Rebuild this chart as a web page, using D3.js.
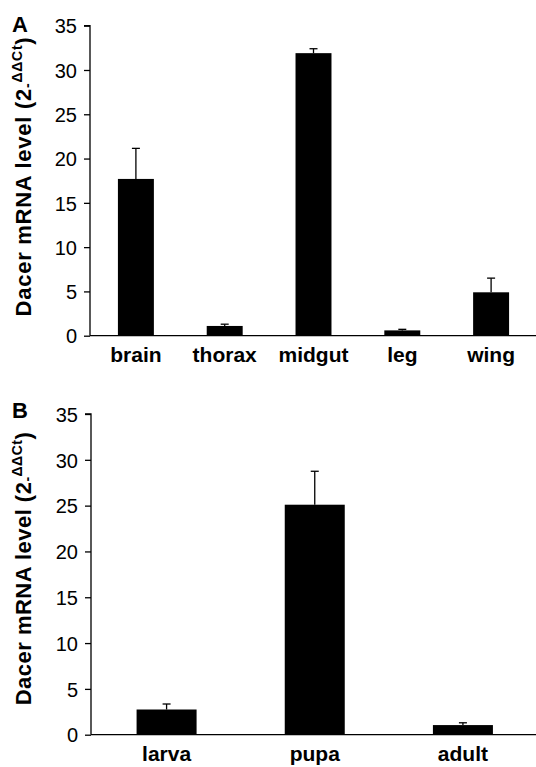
<!DOCTYPE html>
<html>
<head>
<meta charset="utf-8">
<script src="https://cdn.jsdelivr.net/npm/d3@7"></script>
<style>
  html, body { margin: 0; padding: 0; background: #fff; }
  svg { display: block; font-family: "Liberation Sans", Arial, sans-serif; }
</style>
</head>
<body>
<svg id="chart" width="536" height="767"></svg>
<script>
// ---- Data ----
const tissueCategories = ["brain", "thorax", "midgut", "leg", "wing"];
const tissueValues     = [17.7, 1.1, 31.9, 0.6, 4.9];
const tissueErrors     = [3.45, 0.2, 0.5, 0.12, 1.6];

const stageCategories = ["larva", "pupa", "adult"];
const stageValues     = [2.75, 25.1, 1.05];
const stageErrors     = [0.6, 3.65, 0.25];

const yTicks = [0, 5, 10, 15, 20, 25, 30, 35];
const panelLabels = ["A", "B"];

// ---- Drawing ----
const svg = d3.select("#chart");

function drawPanel(cfg) {
  const g = svg.append("g");
  const y = d3.scaleLinear().domain([0, 35]).range([cfg.y0, cfg.y1]);
  const x = d3.scaleBand().domain(cfg.categories)
    .range([cfg.x0 + 1.5, cfg.x1])
    .paddingInner(0.595).paddingOuter(0.2975);

  // bars
  g.selectAll("rect.bar").data(cfg.values).enter().append("rect")
    .attr("class", "bar")
    .attr("x", (d, i) => x(cfg.categories[i]))
    .attr("width", x.bandwidth())
    .attr("y", d => y(d))
    .attr("height", d => y(0) - y(d))
    .attr("fill", "#000");

  // error bars
  const eg = g.selectAll("g.err").data(cfg.values).enter().append("g").attr("class", "err");
  eg.append("line")
    .attr("x1", (d, i) => x(cfg.categories[i]) + x.bandwidth() / 2)
    .attr("x2", (d, i) => x(cfg.categories[i]) + x.bandwidth() / 2)
    .attr("y1", d => y(d))
    .attr("y2", (d, i) => y(d + cfg.errors[i]))
    .attr("stroke", "#000").attr("stroke-width", 1.3);
  eg.append("line")
    .attr("x1", (d, i) => x(cfg.categories[i]) + x.bandwidth() / 2 - 4)
    .attr("x2", (d, i) => x(cfg.categories[i]) + x.bandwidth() / 2 + 4)
    .attr("y1", (d, i) => y(d + cfg.errors[i]))
    .attr("y2", (d, i) => y(d + cfg.errors[i]))
    .attr("stroke", "#000").attr("stroke-width", 1.3);

  // y axis
  const yAxis = d3.axisLeft(y).tickValues(yTicks).tickSize(6).tickPadding(7).tickFormat(d3.format("d"));
  const ya = g.append("g").attr("transform", `translate(${cfg.x0},0)`).call(yAxis);
  ya.select(".domain").attr("d", `M-6,${y(35)}H0V${y(0)}`).attr("stroke-width", 1.3);
  ya.selectAll(".tick line").attr("stroke-width", 1.3);
  ya.selectAll(".tick text")
    .attr("font-size", 20)
    .attr("font-family", "'Liberation Sans', Arial, sans-serif")
    .attr("fill", "#000")
    .attr("dy", "0.36em");

  // x axis
  const xAxis = d3.axisBottom(x).tickSize(0).tickPadding(10);
  const xa = g.append("g").attr("transform", `translate(0,${cfg.y0})`).call(xAxis);
  xa.select(".domain").attr("d", `M${cfg.x0},0H${536}`).attr("stroke-width", 1.3);
  xa.selectAll(".tick text")
    .attr("font-size", 21)
    .attr("font-weight", "bold")
    .attr("font-family", "'Liberation Sans', Arial, sans-serif")
    .attr("fill", "#000")
    .attr("dy", null)
    .attr("y", cfg.labelBaseline - cfg.y0);

  // y title
  const t = g.append("text")
    .attr("transform", `translate(31,${cfg.titleY}) rotate(-90)`)
    .attr("text-anchor", "middle")
    .attr("font-size", 22)
    .attr("font-weight", "bold")
    .attr("fill", "#000");
  t.append("tspan").text("Dacer mRNA level (2");
  t.append("tspan").attr("font-size", 14).attr("dy", 1).text("-");
  t.append("tspan").attr("font-size", 14).attr("dy", -10).text("ΔΔCt");
  t.append("tspan").attr("dy", 9).text(")");
  // fit the title to the reference length
  const nChars = "Dacer mRNA level (2-ΔΔCt)".length;
  const w = t.node().getComputedTextLength();
  t.attr("letter-spacing", (cfg.titleLen - w) / (nChars - 1));

  // panel label
  g.append("text")
    .attr("x", 12).attr("y", cfg.letterBaseline)
    .attr("font-size", 22).attr("font-weight", "bold")
    .attr("fill", "#000")
    .text(cfg.letter);
}

drawPanel({
  categories: tissueCategories, values: tissueValues, errors: tissueErrors,
  x0: 90, x1: 535.5, y0: 335.7, y1: 25.7,
  labelBaseline: 362, titleY: 176.5, titleLen: 279, letter: panelLabels[0], letterBaseline: 32
});
drawPanel({
  categories: stageCategories, values: stageValues, errors: stageErrors,
  x0: 91, x1: 537, y0: 734.7, y1: 414,
  labelBaseline: 761, titleY: 568.5, titleLen: 273, letter: panelLabels[1], letterBaseline: 418
});
</script>
</body>
</html>
